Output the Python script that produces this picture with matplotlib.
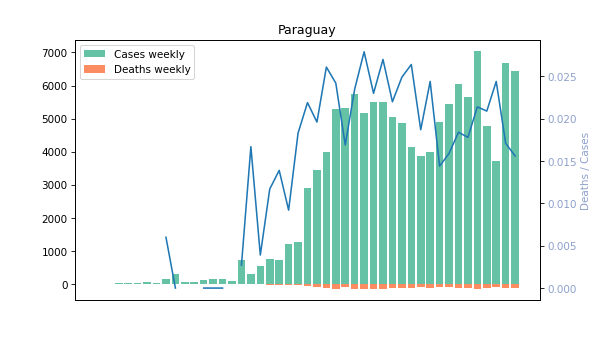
import numpy as np
import matplotlib
matplotlib.use('Agg')
import matplotlib.pyplot as plt

country = 'Paraguay'

# weekly cases (first two weeks empty)
cases = [0, 0, 40, 40, 40, 80, 50, 170, 315, 80, 80, 140, 170, 170, 110,
         740, 315, 540, 770, 740, 1210, 1270, 2910, 3460, 3980, 5300, 5335,
         5730, 5183, 5517, 5517, 5061, 4878, 4148, 3874, 3996, 4909, 5456,
         6034, 5669, 7039, 4787, 3722, 6673, 6430]
deaths = [0, 0, 0, 0, 0, 0, 0, 1, 0, 0, 0, 0, 0, 0, 0,
          2, 5, 2, 9, 10, 11, 23, 64, 68, 104, 128, 90,
          135, 145, 127, 149, 112, 121, 110, 72, 97, 70, 87,
          111, 101, 150, 100, 91, 114, 100]
ratio = [np.nan] * 7 + [0.0060, 0.0, np.nan, np.nan, 0.0, 0.0, 0.0, np.nan,
         0.0027, 0.0167, 0.0039, 0.0117, 0.0139, 0.0092, 0.0183, 0.0219,
         0.0196, 0.0261, 0.0242, 0.0169, 0.0235, 0.0279, 0.0230, 0.0270,
         0.0220, 0.0249, 0.0264, 0.0187, 0.0244, 0.0144, 0.0159, 0.0184,
         0.0178, 0.0214, 0.0209, 0.0244, 0.0171, 0.0156]

x = np.arange(len(cases))

fig, ax = plt.subplots(figsize=(8, 4.5), dpi=75)
ax.bar(x, cases, color='#66c2a5', label='Cases weekly')
ax.bar(x, -np.array(deaths), color='#fc8d62', label='Deaths weekly')
ax.set_ylim(-470, 7375)
ax.set_xticks([])
ax.legend(loc='upper left')
ax.set_title(country)

ax2 = ax.twinx()
ax2.plot(x, ratio, color='#1f77b4')
ax2.set_ylabel('Deaths / Cases', color='#8da0cb')
ax2.tick_params(axis='y', labelcolor='#8da0cb')

plt.savefig('out.png')
